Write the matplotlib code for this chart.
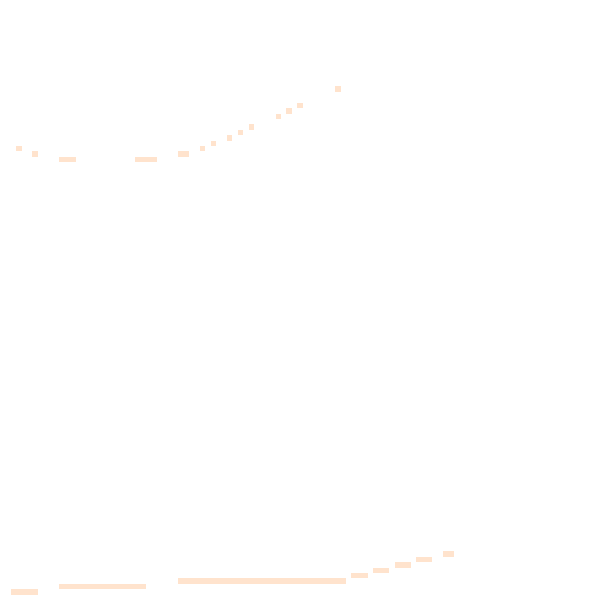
import numpy as np
import matplotlib
matplotlib.use('Agg')
import matplotlib.pyplot as plt
from matplotlib.colors import ListedColormap

# Tamanho da grade (linhas x colunas)
N = 111

# Curva superior: coluna inicial, coluna final, linha
cima_ini = [3, 6, 11, 25, 33, 37, 39, 42, 44, 46, 51, 53, 55, 62]
cima_fim = [3, 6, 13, 28, 34, 37, 39, 42, 44, 46, 51, 53, 55, 62]
cima_lin = [27, 28, 29, 29, 28, 27, 26, 25, 24, 23, 21, 20, 19, 16]

# Curva inferior
baixo_ini = [2, 11, 33, 65, 69, 73, 77, 82]
baixo_fim = [6, 26, 63, 67, 71, 75, 79, 83]
baixo_lin = [109, 108, 107, 106, 105, 104, 103, 102]

grade = np.zeros((N, N))
for a, b, r in zip(cima_ini, cima_fim, cima_lin):
    grade[r, a:b + 1] = 1
for a, b, r in zip(baixo_ini, baixo_fim, baixo_lin):
    grade[r, a:b + 1] = 1

cmap = ListedColormap(['#FFFFFF', '#FFE3CD'])

fig = plt.figure(figsize=(6, 6), dpi=100)
ax = fig.add_axes([0, 0, 1, 1])
ax.imshow(grade, cmap=cmap, vmin=0, vmax=1, interpolation='nearest', aspect='auto')
ax.axis('off')

fig.savefig('out.png', dpi=100)
